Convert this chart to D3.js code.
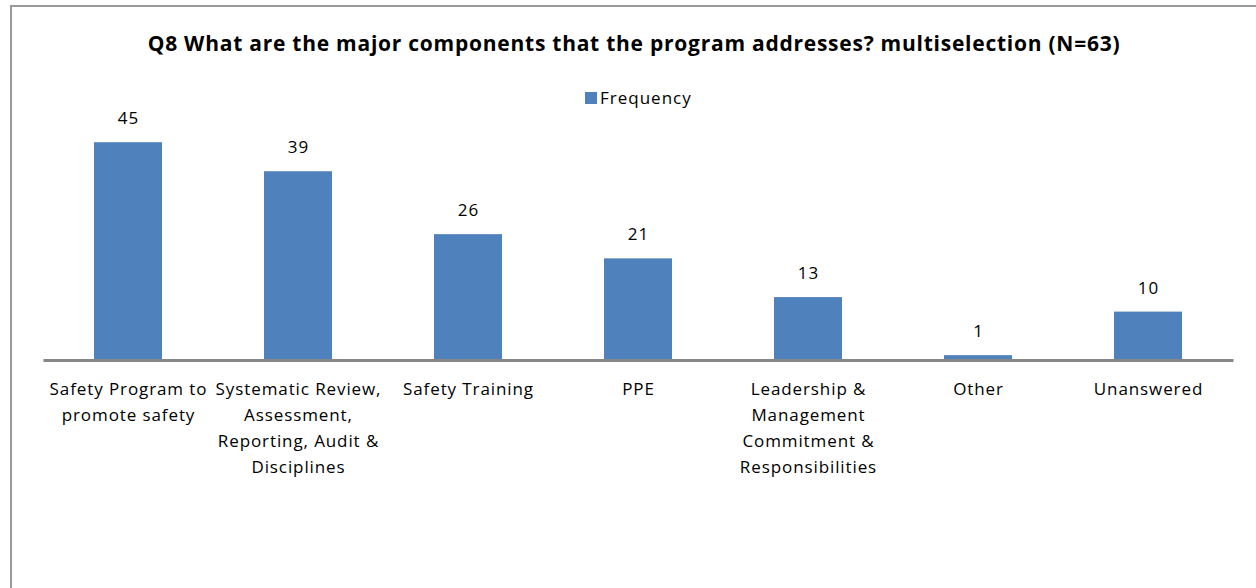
<!DOCTYPE html>
<html>
<head>
<meta charset="utf-8">
<script src="https://cdn.jsdelivr.net/npm/d3@7"></script>
<style>
  html, body { margin: 0; padding: 0; background: #fff; }
  svg { display: block; }
</style>
</head>
<body>
<svg id="chart" width="1256" height="588"></svg>
<script>
// Q8 multiselection responses
const categories = [
  ["Safety Program to", "promote safety"],
  ["Systematic Review,", "Assessment,", "Reporting, Audit &", "Disciplines"],
  ["Safety Training"],
  ["PPE"],
  ["Leadership &", "Management", "Commitment &", "Responsibilities"],
  ["Other"],
  ["Unanswered"]
];
const frequency = [45, 39, 26, 21, 13, 1, 10];
const seriesName = "Frequency";
const titleText = "Q8 What are the major components that the program addresses? multiselection (N=63)";

const svg = d3.select("#chart");
const font = "'Open Sans', 'Noto Sans', sans-serif";
const barColor = "#4F81BD";

// chart frame
svg.append("path")
  .attr("d", "M11,588 V6 H1256")
  .attr("fill", "none")
  .attr("stroke", "#9a9a9a")
  .attr("stroke-width", 2);

const x = d3.scaleBand()
  .domain(d3.range(categories.length))
  .range([43, 1233])
  .paddingInner(0.6)
  .paddingOuter(0.3);

const y = d3.scaleLinear()
  .domain([0, 50])
  .range([360, 118]);

// title
svg.append("text")
  .attr("x", 634)
  .attr("y", 51)
  .attr("text-anchor", "middle")
  .attr("font-family", font)
  .attr("font-weight", "bold")
  .attr("font-size", 21)
  .attr("letter-spacing", 0.75)
  .attr("fill", "#000")
  .text(titleText);

// legend
const legend = svg.append("g").attr("transform", "translate(585,92)");
legend.append("rect").attr("width", 12).attr("height", 12).attr("fill", barColor);
legend.append("text")
  .attr("x", 15).attr("y", 12)
  .attr("font-family", font).attr("font-size", 17).attr("letter-spacing", 1)
  .attr("fill", "#000")
  .text(seriesName);

// bars
svg.append("g").selectAll("rect")
  .data(frequency)
  .join("rect")
  .attr("x", (d, i) => x(i))
  .attr("y", d => y(d))
  .attr("width", x.bandwidth())
  .attr("height", d => y(0) - y(d))
  .attr("fill", barColor);

// value labels
svg.append("g").selectAll("text")
  .data(frequency)
  .join("text")
  .attr("x", (d, i) => x(i) + x.bandwidth() / 2 + 0.5)
  .attr("y", d => y(d) - 18)
  .attr("text-anchor", "middle")
  .attr("font-family", font)
  .attr("font-size", 17)
  .attr("letter-spacing", 1)
  .attr("fill", "#000")
  .text(d => d);

// category axis
const axis = svg.append("g")
  .attr("transform", `translate(0,${y(0)})`)
  .call(d3.axisBottom(x).tickSize(0).tickFormat(""));
axis.select(".domain").attr("stroke", "#868686").attr("stroke-width", 3);

const labels = svg.append("g").selectAll("text")
  .data(categories)
  .join("text")
  .attr("x", (d, i) => x(i) + x.bandwidth() / 2 + 0.5)
  .attr("y", 395)
  .attr("text-anchor", "middle")
  .attr("font-family", font)
  .attr("font-size", 17)
  .attr("letter-spacing", 0.9)
  .attr("fill", "#000");
labels.selectAll("tspan")
  .data(d => d)
  .join("tspan")
  .attr("x", function () { return d3.select(this.parentNode).attr("x"); })
  .attr("dy", (d, i) => i === 0 ? 0 : 26)
  .text(d => d);
</script>
</body>
</html>
